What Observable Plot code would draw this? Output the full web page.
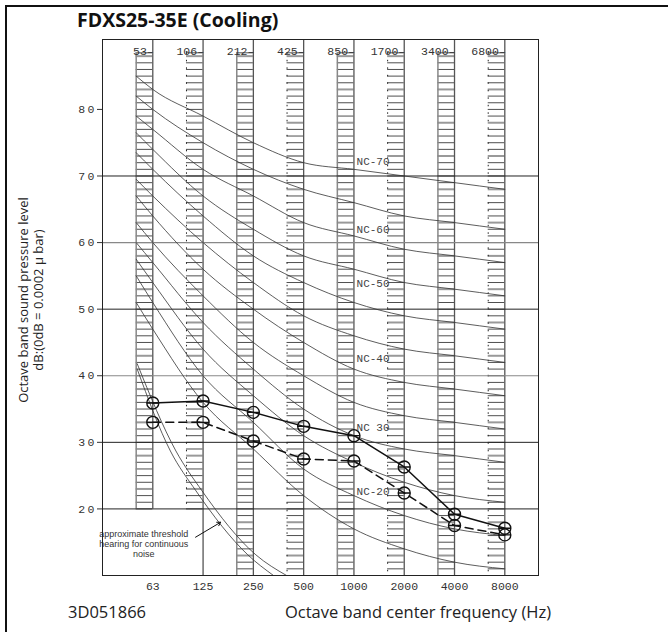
<!DOCTYPE html>
<html><head><meta charset="utf-8">
<script src="https://cdn.jsdelivr.net/npm/d3@7"></script>
<script src="https://cdn.jsdelivr.net/npm/@observablehq/plot@0.6"></script>
<style>
body{margin:0;background:#fff;}
#wrap{position:relative;width:668px;height:635px;overflow:hidden;font-family:"Open Sans",sans-serif;color:#222;}
#chart{position:absolute;left:0;top:0;}
.t{position:absolute;white-space:nowrap;}
#title{left:77px;top:6px;font-weight:700;font-size:19.5px;color:#111;}
#code{left:68px;top:600px;font-size:16.5px;}
#xlab{left:285px;top:600px;font-size:16.5px;}
#ylab{left:31px;top:300px;transform:translate(-50%,-50%) rotate(-90deg);text-align:center;font-size:13px;line-height:15px;}
#bl{position:absolute;left:5px;top:5px;width:2px;height:627px;background:#111;}
#bt{position:absolute;left:5px;top:5px;width:663px;height:2px;background:#111;}
g[aria-label="tech"] text, g[aria-label="y-axis tick label"] text{letter-spacing:2.2px;}
g[aria-label="nclab"] text{letter-spacing:1px;}
</style></head><body>
<div id="wrap">
<div id="chart"></div>
<div id="bl"></div><div id="bt"></div>
<div class="t" id="title">FDXS25-35E (Cooling)</div>
<div class="t" id="ylab">Octave band sound pressure level<br>dB:(0dB = 0.0002 μ bar)</div>
<div class="t" id="code">3D051866</div>
<div class="t" id="xlab">Octave band center frequency (Hz)</div>
</div>
<script>
// ---- data ----
const bands = ["63","125","250","500","1000","2000","4000","8000"];
const bandEdges = ["53","106","212","425","850","1700","3400","6800"];
const yTicks = [20,30,40,50,60,70,80];
const ncNames = ["NC-15","NC-20","NC-25","NC-30","NC-35","NC-40","NC-45","NC-50","NC-55","NC-60","NC-65","NC-70"];
const ncStart = [51,55,57.5,60,63,67,69.5,73.5,76.5,79,82,85];
const nc15 = [47,36,29,22,17,14,12,11];
const nc20 = [51,40,33,26,22,19,17,16];
const nc25 = [54,44,37,31,27,24,22,21];
const nc30 = [57,48,41,35,31,29,28,27];
const nc35 = [60,52,45,40,36,34,33,32];
const nc40 = [64,56,50,45,41,39,38,37];
const nc45 = [67,60,54,49,46,44,43,42];
const nc50 = [71,64,58,54,51,49,48,47];
const nc55 = [74,67,62,58,56,54,53,52];
const nc60 = [77,71,67,63,61,59,58,57];
const nc65 = [80,75,71,68,66,64,63,62];
const nc70 = [83,79,75,72,71,70,69,68];
const ncCurves = [nc15,nc20,nc25,nc30,nc35,nc40,nc45,nc50,nc55,nc60,nc65,nc70];
const solidSeries  = [35.9,36.2,34.5,32.4,31.0,26.3,19.2,17.1];
const dashedSeries = [33.0,33.0,30.2,27.5,27.2,22.4,17.5,16.1];
const ncLabelText = ["NC-70","NC-60","NC-50","NC-40","NC 30","NC-20"];
const ncLabelDb   = [72.2,62.0,53.8,42.6,32.2,22.6];
const thrUpperX  = [-0.31,0.46,0.98,2.05,2.66];
const thrUpperDb = [41.8,28.7,22.7,13.1,10];
const thrLowerX  = [-0.31,0.35,0.86,1.89,2.40];
const thrLowerDb = [41.0,28.7,22.7,13.1,10];
const thresholdNote = "approximate threshold\nhearing for continuous\nnoise";

// ---- layout constants ----
const colW = 0.33, colTop = 88.5, yMin = 10, yMax = 90.5;
const ncLabelX = 4.38;

// ---- derived tables ----
const idx = bands.map((b,i)=>i);
const ncRows = [];
ncCurves.forEach((vals,k)=>{
  ncRows.push({nc:ncNames[k], x:-colW, y:ncStart[k]});
  vals.forEach((v,i)=>ncRows.push({nc:ncNames[k], x:i, y:v}));
});
const stripes = [];
idx.forEach(i=>{
  const bottom = i<2 ? 20 : yMin;
  for(let d=Math.ceil(bottom); d<=88; d++){
    stripes.push({x1:i-colW, x2:i, y:d, g:(d%5===3)});
  }
  stripes.push({x1:i-colW, x2:i, y:colTop, g:false});
});
const centerLines = idx.map(i=>({x:i, y1:yMax, y2: i===0?20:yMin}));
const leftEdges = idx.map(i=>({x:i-colW, y1:colTop, y2: i<2?20:yMin, even: i%2===0}));
const solidPts = solidSeries.map((v,i)=>({x:i,y:v}));
const dashedPts = dashedSeries.map((v,i)=>({x:i,y:v}));
const thrU = thrUpperX.map((x,i)=>({x, y:thrUpperDb[i]}));
const thrL = thrLowerX.map((x,i)=>({x, y:thrLowerDb[i]}));

const circleBar = {draw(ctx,size){const r=Math.sqrt(size/Math.PI);ctx.moveTo(r,0);ctx.arc(0,0,r,0,2*Math.PI);ctx.moveTo(-r,0);ctx.lineTo(r,0);}};
const techFont = "Liberation Mono, DejaVu Sans Mono, monospace";

const chart = Plot.plot({
  width:668, height:635,
  marginLeft:102, marginRight:130, marginTop:39, marginBottom:60,
  x:{domain:[-1,7.67], axis:null},
  y:{domain:[yMin,yMax], axis:null},
  style:{background:"transparent"},
  marks:[
    Plot.ruleY(stripes.filter(d=>!d.g), {x1:"x1", x2:"x2", y:"y", stroke:"#222", strokeWidth:0.8}),
    Plot.ruleY(stripes.filter(d=>d.g), {x1:"x1", x2:"x2", y:"y", stroke:"#999", strokeWidth:2}),
    Plot.ruleX(leftEdges.filter(d=>d.even), {x:"x", y1:"y1", y2:"y2", stroke:"#888", strokeWidth:1.5}),
    Plot.ruleX(leftEdges.filter(d=>!d.even), {x:"x", y1:"y1", y2:"y2", stroke:"#222", strokeWidth:1, strokeDasharray:"1.5,6"}),
    Plot.ruleX(centerLines, {x:"x", y1:"y1", y2:"y2", stroke:"#555", strokeWidth:1.3}),
    Plot.ruleY([20,30,50,70], {stroke:"#222", strokeWidth:1}),
    Plot.ruleY([40,60], {stroke:"#888", strokeWidth:1.2}),
    Plot.line(ncRows, {x:"x", y:"y", z:"nc", stroke:"#333", strokeWidth:0.8, curve:"monotone-x"}),
    Plot.line(thrU, {x:"x", y:"y", stroke:"#333", strokeWidth:0.8, curve:"monotone-x"}),
    Plot.line(thrL, {x:"x", y:"y", stroke:"#333", strokeWidth:0.8, curve:"monotone-x"}),
    Plot.arrow([{x1:0.85,y1:15.75,x2:1.35,y2:18.0}], {x1:"x1",y1:"y1",x2:"x2",y2:"y2", stroke:"#111", strokeWidth:1, headLength:6}),
    Plot.text([thresholdNote], {x:-0.18, y:14.8, text:d=>d, fontSize:9, lineHeight:1.15, fill:"#333", fontFamily:"Liberation Sans Narrow, Liberation Sans, sans-serif"}),
    Plot.line(solidPts, {x:"x", y:"y", stroke:"#111", strokeWidth:1.5}),
    Plot.line(dashedPts, {x:"x", y:"y", stroke:"#111", strokeWidth:1.5, strokeDasharray:"8,5"}),
    Plot.dot(solidPts, {x:"x", y:"y", r:6, symbol:circleBar, stroke:"#111", strokeWidth:1.4, fill:"none"}),
    Plot.dot(dashedPts, {x:"x", y:"y", r:6, symbol:circleBar, stroke:"#111", strokeWidth:1.4, fill:"none"}),
    Plot.text(ncLabelText, {x:ncLabelX, y:(d,i)=>ncLabelDb[i], text:d=>d, fontSize:11, fill:"#444", fontFamily:techFont, ariaLabel:"nclab"}),
    Plot.frame({stroke:"#222", strokeWidth:1}),
    Plot.axisY(yTicks, {tickSize:5, tickPadding:1, fontSize:11.5, fontFamily:techFont, color:"#333", label:null}),
    Plot.text(bands, {x:(d,i)=>i, frameAnchor:"bottom", dy:14, text:d=>d, fontSize:11.5, fill:"#333", fontFamily:techFont, ariaLabel:"tech"}),
    Plot.text(bandEdges, {x:(d,i)=>i, frameAnchor:"top", dy:7, textAnchor:"end", dx:1, text:d=>d+"–", fontSize:11.5, fill:"#333", fontFamily:techFont, ariaLabel:"tech"})
  ]
});
document.getElementById("chart").appendChild(chart);
</script>
</body></html>
